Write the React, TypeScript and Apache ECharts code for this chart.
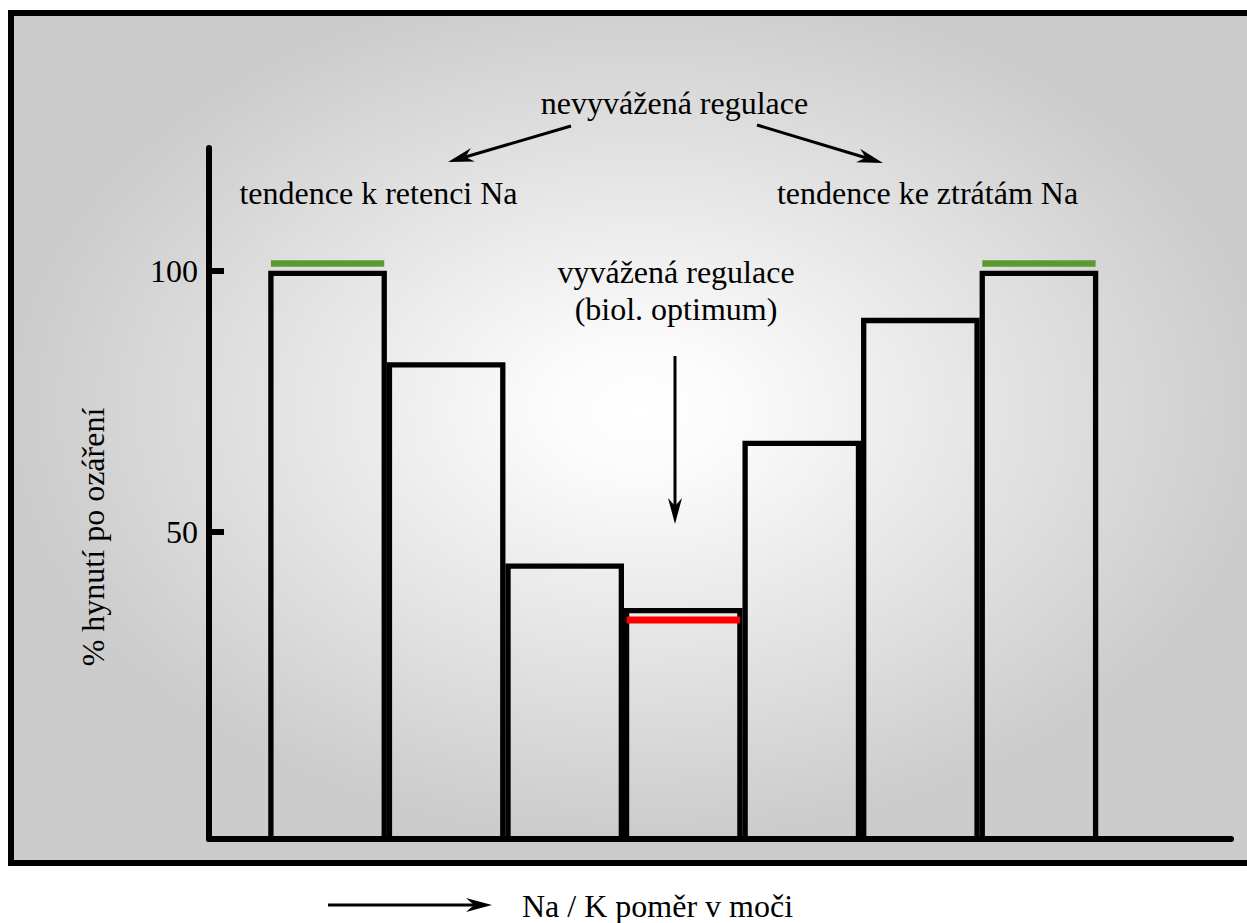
import React, { useEffect, useRef } from 'react';
import * as echarts from 'echarts';

// ---- data ----
const groupPositions = [1, 2, 3, 4, 5, 6, 7];
const deathRates = [99.5, 82, 43.5, 35, 67, 90.5, 99.5];
const yTickValues = [50, 100];
const markerPositions = [1, 4, 7];
const markerLevels = [101.4, 33.2, 101.4];
const markerKinds = ['imbalance', 'optimum', 'imbalance'];

const titleTop = 'nevyvážená regulace';
const leftNote = 'tendence k retenci Na';
const rightNote = 'tendence ke ztrátám Na';
const optimumNote1 = 'vyvážená regulace';
const optimumNote2 = '(biol. optimum)';
const xAxisTitle = 'Na / K poměr v moči';
const yAxisTitle = '% hynutí po ozáření';

// ---- layout constants ----
const Y_MIN = -8.7;
const Y_MAX = 123.5;
const X_MIN = 0;
const X_MAX = 8.62;
const HALF = 0.478;
const FONT = 'Liberation Serif';

function arrow(x1: number, y1: number, x2: number, y2: number, len = 26, half = 7, notch = 8) {
  const dx = x2 - x1;
  const dy = y2 - y1;
  const L = Math.hypot(dx, dy);
  const ux = dx / L;
  const uy = dy / L;
  const px = -uy;
  const py = ux;
  const bx = x2 - ux * len;
  const by = y2 - uy * len;
  const nx = x2 - ux * (len - notch);
  const ny = y2 - uy * (len - notch);
  return [
    {
      type: 'line',
      z: 100,
      silent: true,
      shape: { x1, y1, x2: nx, y2: ny },
      style: { stroke: '#000', lineWidth: 3 },
    },
    {
      type: 'polygon',
      z: 100,
      silent: true,
      shape: {
        points: [
          [x2, y2],
          [bx + px * half, by + py * half],
          [nx, ny],
          [bx - px * half, by - py * half],
        ],
      },
      style: { fill: '#000' },
    },
  ];
}

function txt(text: string, x: number, y: number, align = 'center', rotation = 0) {
  return {
    type: 'text',
    z: 100,
    silent: true,
    x,
    y,
    rotation,
    style: {
      text,
      fill: '#000',
      fontFamily: FONT,
      fontSize: 32,
      fontWeight: 'normal',
      textAlign: align,
      textVerticalAlign: 'middle',
    },
  };
}

export default function App() {
  const ref = useRef<HTMLDivElement>(null);

  useEffect(() => {
    if (!ref.current) return;
    const chart = echarts.init(ref.current, undefined, { renderer: 'svg' });

    const barData = groupPositions.map((g, i) => [g, deathRates[i]]);
    const markerData = markerPositions.map((g, i) => [g, markerLevels[i]]);

    const option: any = {
      animation: false,
      backgroundColor: '#ffffff',
      textStyle: { fontFamily: FONT },
      grid: {
        left: 209,
        right: 16,
        top: 148,
        bottom: 84,
        containLabel: false,
        outerBoundsMode: 'none',
      },
      xAxis: {
        type: 'value',
        min: X_MIN,
        max: X_MAX,
        axisLine: { show: true, onZero: false, lineStyle: { color: '#000', width: 6 } },
        axisTick: { show: false },
        axisLabel: { show: false },
        splitLine: { show: false },
      },
      yAxis: {
        type: 'value',
        min: Y_MIN,
        max: Y_MAX,
        axisLine: { show: true, onZero: false, lineStyle: { color: '#000', width: 6 } },
        axisTick: {
          show: true,
          inside: true,
          length: 15,
          customValues: yTickValues,
          lineStyle: { color: '#000', width: 6 },
        },
        axisLabel: {
          show: true,
          customValues: yTickValues,
          margin: 11,
          fontFamily: FONT,
          fontSize: 32,
          color: '#000',
        },
        splitLine: { show: false },
      },
      graphic: [
        {
          type: 'rect',
          z: -100,
          silent: true,
          shape: { x: 11, y: 13, width: 1245, height: 850 },
          style: {
            fill: new echarts.graphic.RadialGradient(0.506, 0.467, 0.5, [
              { offset: 0, color: '#ffffff' },
              { offset: 0.15, color: '#fbfbfb' },
              { offset: 1, color: '#cccccc' },
            ]),
            stroke: '#000',
            lineWidth: 6,
          },
        },
        txt(titleTop, 674.5, 103),
        txt(leftNote, 378.5, 193),
        txt(rightNote, 927.5, 193),
        txt(optimumNote1, 676, 272),
        txt(optimumNote2, 676, 309),
        txt(xAxisTitle, 522, 906, 'left'),
        txt(yAxisTitle, 93, 537, 'center', Math.PI / 2),
        ...arrow(571, 126, 448, 162),
        ...arrow(757, 125, 883, 163),
        ...arrow(675, 356, 675, 524),
        ...arrow(328, 905, 492, 905),
      ],
      series: [
        {
          type: 'custom',
          name: 'bars',
          z: 3,
          clip: false,
          silent: true,
          data: barData,
          renderItem: (params: any, api: any) => {
            const x = api.value(0);
            const v = api.value(1);
            const p0 = api.coord([x - HALF, Y_MIN]);
            const p1 = api.coord([x + HALF, v]);
            return {
              type: 'rect',
              shape: { x: p0[0], y: p1[1], width: p1[0] - p0[0], height: p0[1] - p1[1] },
              style: { fill: 'none', stroke: '#000', lineWidth: 5.3 },
            };
          },
        },
        {
          type: 'custom',
          name: 'markers',
          z: 4,
          clip: false,
          silent: true,
          data: markerData,
          renderItem: (params: any, api: any) => {
            const x = api.value(0);
            const v = api.value(1);
            const a = api.coord([x - HALF, v]);
            const b = api.coord([x + HALF, v]);
            const optimum = markerKinds[params.dataIndex] === 'optimum';
            return {
              type: 'line',
              shape: { x1: a[0], y1: a[1], x2: b[0], y2: b[1] },
              style: { stroke: optimum ? '#ff0000' : '#5b9a31', lineWidth: optimum ? 7 : 6.5 },
            };
          },
        },
      ],
    };

    chart.setOption(option);
    return () => chart.dispose();
  }, []);

  return (
    <div
      ref={ref}
      style={{ position: 'absolute', left: 0, top: 0, width: 1247, height: 923 }}
    />
  );
}
